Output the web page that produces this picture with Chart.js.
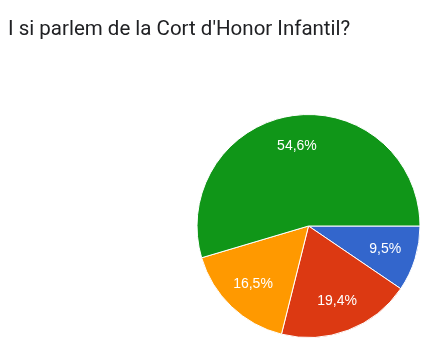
<!DOCTYPE html>
<html>
<head>
<meta charset="utf-8">
<script src="https://cdn.jsdelivr.net/npm/chart.js@4.4.0/dist/chart.umd.min.js"></script>
<style>
  html, body { margin: 0; padding: 0; background: #ffffff; }
  #wrap { position: relative; width: 440px; height: 357px; overflow: hidden; }
  #title { position: absolute; left: 8px; top: 16px; font-family: Roboto, "Liberation Sans", sans-serif; font-size: 20.5px; line-height: 24px; color: #202124; white-space: nowrap; z-index: 2; }
  canvas { position: absolute; left: 0; top: 0; }
</style>
</head>
<body>
<div id="wrap">
  <div id="title">I si parlem de la Cort d'Honor Infantil?</div>
  <canvas id="c" width="440" height="357"></canvas>
</div>
<script>
const categories = ["Opció 1", "Opció 2", "Opció 3", "Opció 4"];
const values = [9.5, 19.4, 16.5, 54.6];
const valueLabels = ["9,5%", "19,4%", "16,5%", "54,6%"];
const colors = ["#3366cc", "#dc3912", "#ff9900", "#109618"];

const sliceLabels = {
  id: 'sliceLabels',
  afterDatasetsDraw(chart) {
    const ctx = chart.ctx;
    const meta = chart.getDatasetMeta(0);
    ctx.save();
    ctx.fillStyle = '#ffffff';
    ctx.font = '14px "Liberation Sans", Arial, sans-serif';
    ctx.textAlign = 'center';
    ctx.textBaseline = 'middle';
    meta.data.forEach((arc, i) => {
      const p = arc.getProps(['x', 'y', 'startAngle', 'endAngle', 'outerRadius'], true);
      const mid = (p.startAngle + p.endAngle) / 2;
      const r = p.outerRadius * 0.72;
      ctx.fillText(valueLabels[i], p.x + Math.cos(mid) * r, p.y + Math.sin(mid) * r);
    });
    ctx.restore();
  }
};

new Chart(document.getElementById('c'), {
  type: 'pie',
  data: {
    labels: categories,
    datasets: [{
      data: values,
      backgroundColor: colors,
      borderColor: '#ffffff',
      borderWidth: 1
    }]
  },
  options: {
    responsive: false,
    animation: false,
    rotation: 90,
    layout: { padding: { left: 196, right: 19, top: 114, bottom: 19 } },
    plugins: {
      legend: { display: false },
      tooltip: { enabled: false },
      title: { display: false }
    }
  },
  plugins: [sliceLabels]
});
</script>
</body>
</html>
